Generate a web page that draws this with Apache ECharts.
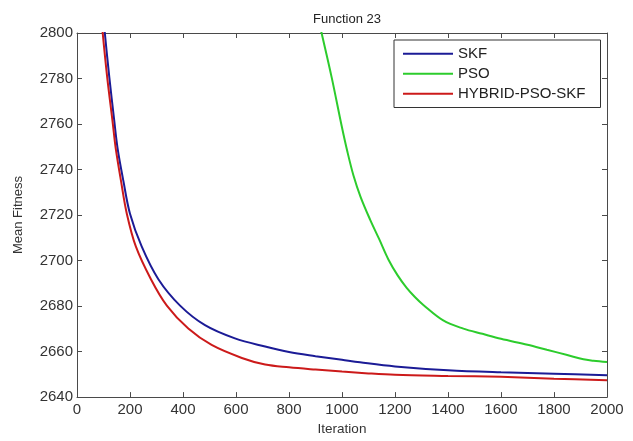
<!DOCTYPE html>
<html>
<head>
<meta charset="utf-8">
<script src="https://cdn.jsdelivr.net/npm/echarts@6/dist/echarts.min.js"></script>
<style>
html,body{margin:0;padding:0;background:#fff;}
#main{width:633px;height:441px;}
</style>
</head>
<body>
<div id="main"></div>
<script>
const titleText = 'Function 23';
const xName = 'Iteration';
const yName = 'Mean Fitness';
const seriesNames = ['SKF', 'PSO', 'HYBRID-PSO-SKF'];

const skfIter = [50, 80, 105, 122, 140, 153, 175, 200, 244, 307, 389, 483, 596, 710, 800, 900, 1000, 1068, 1200, 1400, 1600, 1800, 2000];
const skfVal  = [2880, 2832, 2800, 2780.5, 2762, 2749.4, 2735, 2720.6, 2706.2, 2691.8, 2680.2, 2671.6, 2665.8, 2662.2, 2659.8, 2658, 2656.4, 2655.3, 2653.5, 2651.8, 2650.9, 2650.3, 2649.6];

const psoIter = [880, 923, 961, 999, 1020, 1043, 1070, 1106, 1140, 1175, 1210, 1244, 1275, 1307, 1382, 1458, 1530, 1600, 1700, 1773, 1850, 1911, 1949, 2000];
const psoVal  = [2822, 2800, 2780.5, 2759, 2748, 2737.5, 2728, 2718, 2709.5, 2700.5, 2693.5, 2688, 2684, 2680.5, 2673.7, 2670.1, 2667.8, 2665.6, 2663, 2660.8, 2658.5, 2656.6, 2656, 2655.4];

const hybIter = [50, 75, 97, 114, 135, 146, 166, 188, 222, 279, 339, 420, 508, 622, 710, 800, 900, 1000, 1100, 1200, 1400, 1600, 1800, 2000];
const hybVal  = [2870, 2828, 2800, 2780.5, 2760.3, 2749.4, 2735, 2720.6, 2706.2, 2691.8, 2680.2, 2670.1, 2662.9, 2657.2, 2654.3, 2653.1, 2652.1, 2651.2, 2650.4, 2649.8, 2649.3, 2648.9, 2648.1, 2647.4];

const xTicks = [0, 200, 400, 600, 800, 1000, 1200, 1400, 1600, 1800, 2000];
const yTicks = [2640, 2660, 2680, 2700, 2720, 2740, 2760, 2780, 2800];

function pairs(xs, ys) { return xs.map((x, i) => [x, ys[i]]); }

const FONT = '"Liberation Sans", Arial, sans-serif';
const axisColor = '#4a4a4a';
const textColor = '#333';
const colors = ['#1b1b96', '#2ccc2c', '#cc1a1a'];

const chart = echarts.init(document.getElementById('main'), null, {renderer: 'canvas'});
const baseX = {
  type: 'value', min: xTicks[0], max: xTicks[xTicks.length - 1], interval: xTicks[1] - xTicks[0],
  axisLine: {show: true, onZero: false, lineStyle: {color: axisColor, width: 1}},
  axisTick: {show: true, inside: true, length: 5, lineStyle: {color: axisColor}},
  splitLine: {show: false}
};
const baseY = {
  type: 'value', min: yTicks[0], max: yTicks[yTicks.length - 1], interval: yTicks[1] - yTicks[0],
  axisLine: {show: true, onZero: false, lineStyle: {color: axisColor, width: 1}},
  axisTick: {show: true, inside: true, length: 5, lineStyle: {color: axisColor}},
  splitLine: {show: false}
};
const plain = v => String(v);
const option = {
  animation: false,
  backgroundColor: '#fff',
  textStyle: {fontFamily: FONT},
  title: {
    text: titleText, left: 342, textAlign: 'center', top: 8,
    textStyle: {fontSize: 13, fontWeight: 'normal', color: '#222', fontFamily: FONT}
  },
  grid: {left: 77, right: 26, top: 33, bottom: 38, containLabel: false},
  legend: {
    orient: 'vertical', left: 394, top: 40,
    padding: [6, 15, 6, 9], itemGap: 4.5, itemWidth: 50, itemHeight: 2,
    icon: 'rect',
    borderColor: '#333', borderWidth: 1, backgroundColor: '#fff',
    selectedMode: false,
    textStyle: {fontSize: 15, lineHeight: 15.5, color: '#222', fontFamily: FONT},
    data: seriesNames
  },
  xAxis: [
    Object.assign({}, baseX, {
      position: 'bottom', name: xName, nameLocation: 'middle', nameGap: 22,
      nameTextStyle: {fontSize: 13.5, color: textColor, fontFamily: FONT},
      axisLabel: {show: true, fontSize: 15, color: textColor, margin: 5, fontFamily: FONT, formatter: plain}
    }),
    Object.assign({}, baseX, {position: 'top', axisLabel: {show: false}})
  ],
  yAxis: [
    Object.assign({}, baseY, {
      position: 'left', name: yName, nameLocation: 'middle', nameGap: 52, nameRotate: 90,
      nameTextStyle: {fontSize: 13, color: textColor, fontFamily: FONT},
      axisLabel: {show: true, fontSize: 15, color: textColor, margin: 4, fontFamily: FONT, formatter: plain}
    }),
    Object.assign({}, baseY, {position: 'right', axisLabel: {show: false}})
  ],
  series: [
    {name: seriesNames[0], type: 'line', data: pairs(skfIter, skfVal), symbol: 'none', smooth: 0.35, clip: true,
     lineStyle: {color: colors[0], width: 2}, itemStyle: {color: colors[0]}, z: 3},
    {name: seriesNames[1], type: 'line', data: pairs(psoIter, psoVal), symbol: 'none', smooth: 0.35, clip: true,
     lineStyle: {color: colors[1], width: 2}, itemStyle: {color: colors[1]}, z: 2},
    {name: seriesNames[2], type: 'line', data: pairs(hybIter, hybVal), symbol: 'none', smooth: 0.35, clip: true,
     lineStyle: {color: colors[2], width: 2}, itemStyle: {color: colors[2]}, z: 4}
  ]
};
chart.setOption(option);
</script>
</body>
</html>
